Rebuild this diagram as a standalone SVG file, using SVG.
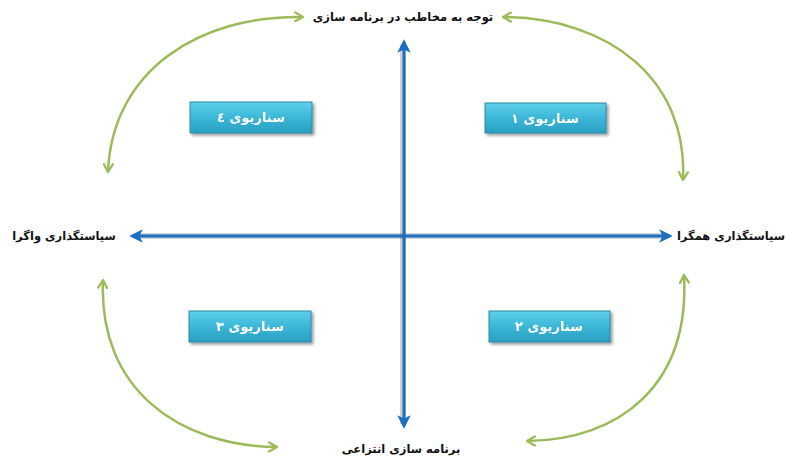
<svg xmlns="http://www.w3.org/2000/svg" width="786" height="456" viewBox="0 0 786 456">
<style>
.lbl{font-family:"DejaVu Sans","Noto Sans",sans-serif;font-weight:bold;font-size:11.5px;fill:#111;text-anchor:middle;direction:rtl}
.btxt{font-family:"DejaVu Sans","Noto Sans",sans-serif;font-weight:bold;font-size:13px;fill:#fff;text-anchor:middle;direction:rtl}
.box{fill:url(#g);stroke:#2a8aa8;stroke-width:1}
.ax{stroke:#1b6fc0;stroke-width:3;fill:none;marker-start:url(#ab);marker-end:url(#ab)}
.axs{stroke:#000;stroke-opacity:0.18;stroke-width:6;fill:none}
.cv{stroke:#9bbb59;stroke-width:2.5;fill:none;marker-start:url(#ag);marker-end:url(#ag)}
</style>
<defs>
<linearGradient id="g" x1="0" y1="0" x2="0" y2="1">
<stop offset="0" stop-color="#5fd0ea"/>
<stop offset="0.5" stop-color="#3bb7d8"/>
<stop offset="1" stop-color="#2a9fc2"/>
</linearGradient>
<filter id="sh" x="-10%" y="-20%" width="130%" height="150%">
<feGaussianBlur in="SourceAlpha" stdDeviation="1.5"/>
<feOffset dx="1.5" dy="2" result="b"/>
<feComponentTransfer><feFuncA type="linear" slope="0.4"/></feComponentTransfer>
<feMerge><feMergeNode/><feMergeNode in="SourceGraphic"/></feMerge>
</filter>
<marker id="ab" viewBox="0 0 10 10" refX="8" refY="5" markerWidth="4.5" markerHeight="4.5" orient="auto-start-reverse">
<path d="M0,0 L10,5 L0,10 L2.5,5 Z" fill="#1b6fc0"/>
</marker>
<marker id="ag" viewBox="0 0 10 10" refX="8" refY="5" markerWidth="4.5" markerHeight="4.5" orient="auto-start-reverse">
<path d="M1,1 L8,5 L1,9" fill="none" stroke="#9bbb59" stroke-width="2" stroke-linecap="round" stroke-linejoin="round"/>
</marker>
</defs>
<rect width="786" height="456" fill="#fff"/>
<g id="connectors">
<line class="axs" x1="403" y1="44" x2="403" y2="424"/>
<line class="axs" x1="134" y1="236" x2="668" y2="236"/>
<line class="ax" x1="404" y1="42" x2="404" y2="426"/>
<line class="ax" x1="132" y1="236" x2="670" y2="236"/>
<path class="cv" d="M303 17 C 200 15, 112 70, 108 172"/>
<path class="cv" d="M503 17 C 610 18, 688 80, 683 180"/>
<path class="cv" d="M103 280 C 98 390, 180 446, 277 447"/>
<path class="cv" d="M684 275 C 690 385, 620 440, 527 441"/>
</g>
<g id="top"><text class="lbl" x="403" y="21">توجه به مخاطب در برنامه سازی</text></g>
<g id="bottom"><text class="lbl" x="401" y="453">برنامه سازی انتزاعی</text></g>
<g id="left"><text class="lbl" x="64" y="240">سیاستگذاری واگرا</text></g>
<g id="right"><text class="lbl" x="731" y="240">سیاستگذاری همگرا</text></g>
<g id="s4" filter="url(#sh)"><rect class="box" x="190" y="102" width="122" height="31"/><text class="btxt" x="251" y="122">سناریوی ٤</text></g>
<g id="s1" filter="url(#sh)"><rect class="box" x="485" y="103" width="121" height="30"/><text class="btxt" x="545" y="123">سناریوی ۱</text></g>
<g id="s3" filter="url(#sh)"><rect class="box" x="189" y="311" width="122" height="31"/><text class="btxt" x="250" y="331">سناریوی ۳</text></g>
<g id="s2" filter="url(#sh)"><rect class="box" x="489" y="311" width="121" height="31"/><text class="btxt" x="549" y="331">سناریوی ۲</text></g>
</svg>
